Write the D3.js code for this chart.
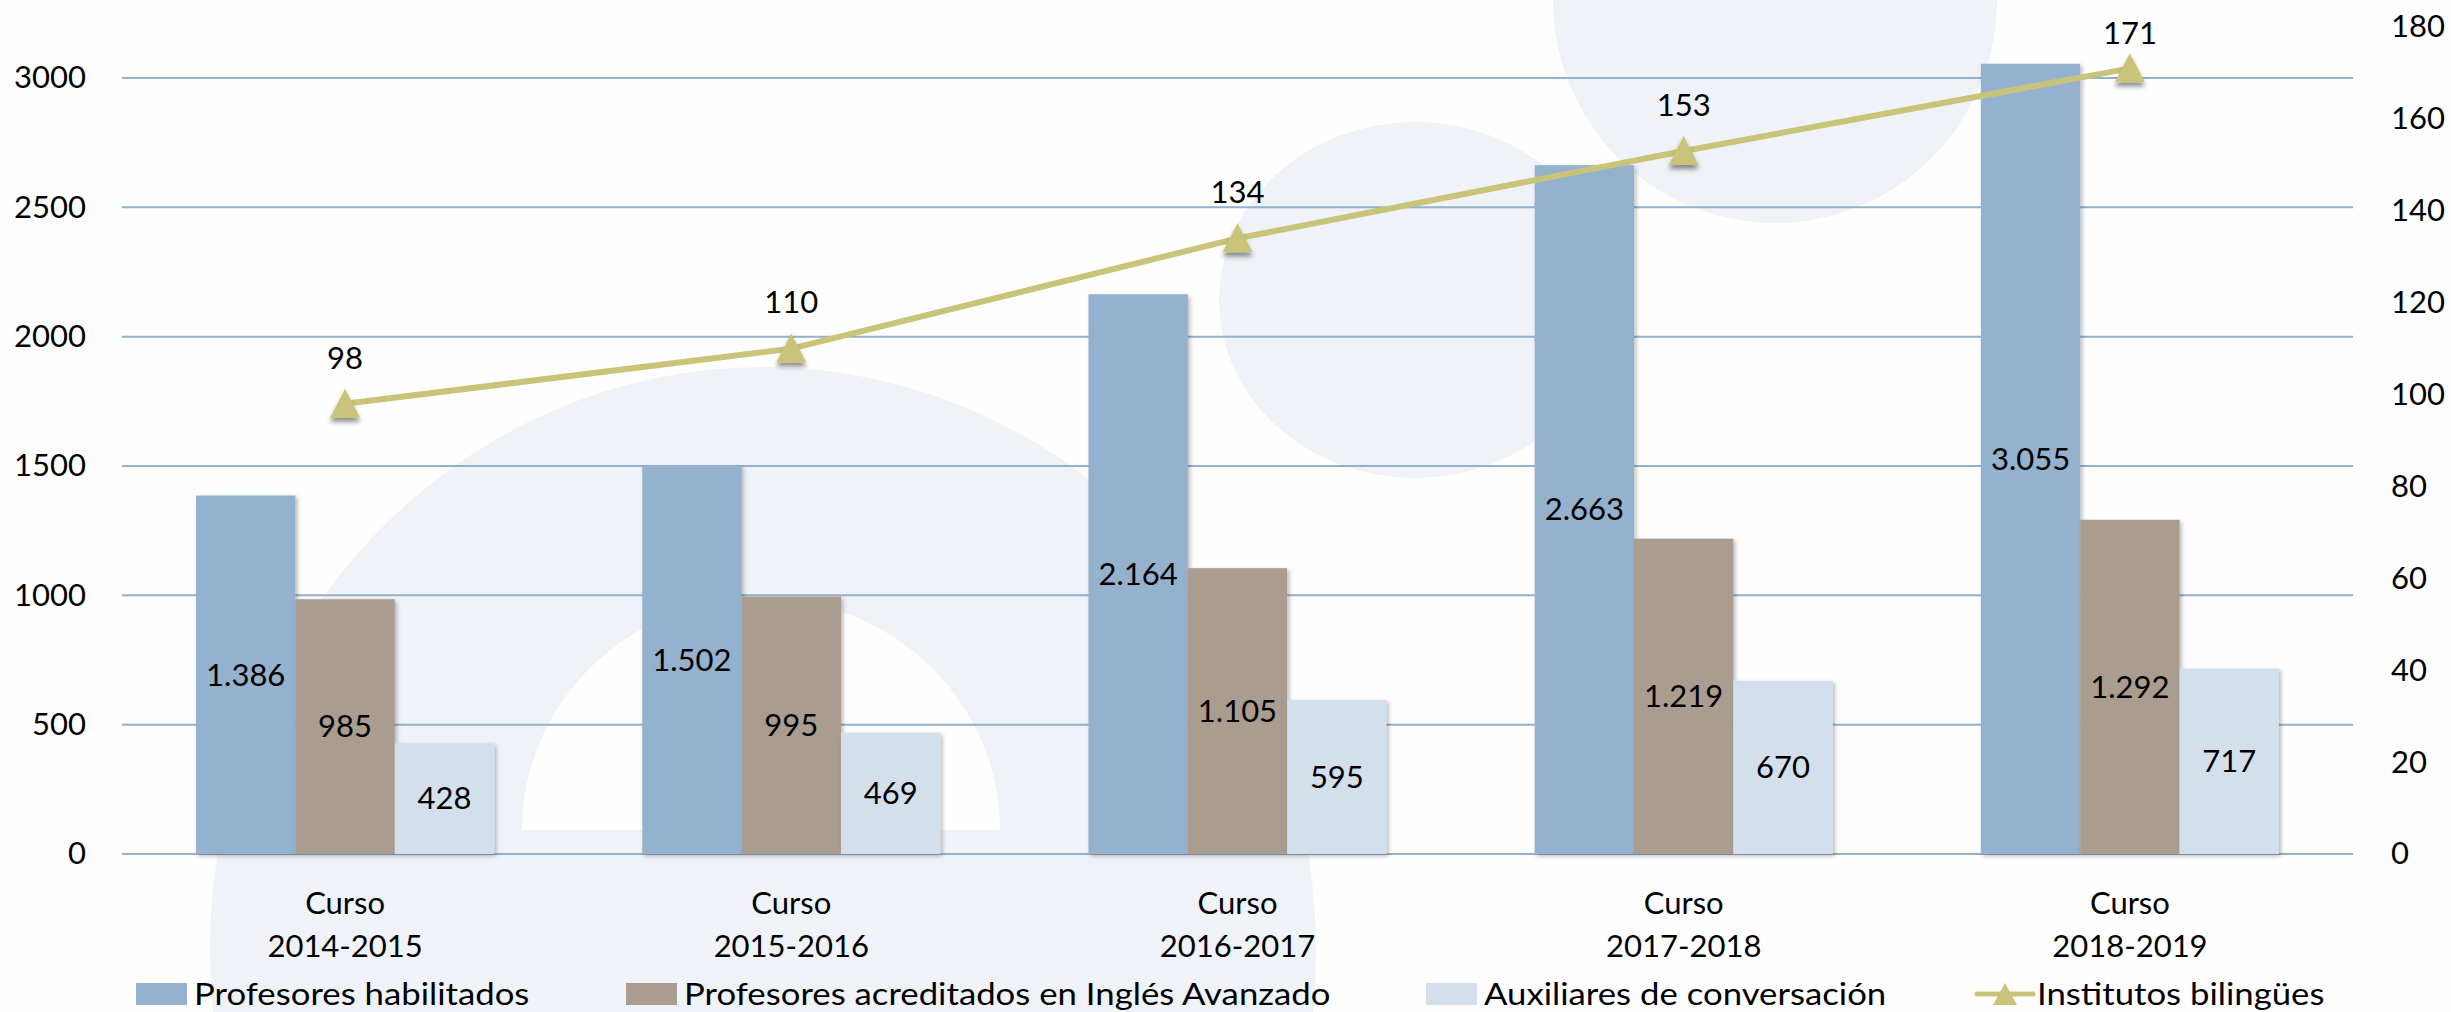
<!DOCTYPE html>
<html lang="es">
<head>
<meta charset="utf-8">
<title>Programa bilingüe: profesorado, auxiliares e institutos</title>
<script src="https://cdn.jsdelivr.net/npm/d3@7"></script>
<style>
  html, body { margin: 0; padding: 0; background: #ffffff; }
  svg { display: block; }
  text { font-family: Lato, "Open Sans", "Liberation Sans", sans-serif; fill: #000; }
</style>
</head>
<body>
<svg id="chart" width="2451" height="1012"></svg>
<script>
// ---- Datos ----
const courses = ["2014-2015", "2015-2016", "2016-2017", "2017-2018", "2018-2019"];
const coursePrefix = "Curso";
const seriesNames = [
  "Profesores habilitados",
  "Profesores acreditados en Inglés Avanzado",
  "Auxiliares de conversación"
];
const profesoresHabilitados = [1386, 1502, 2164, 2663, 3055];
const profesoresAcreditados = [985, 995, 1105, 1219, 1292];
const auxiliaresConversacion = [428, 469, 595, 670, 717];
const lineName = "Institutos bilingües";
const institutosBilingues = [98, 110, 134, 153, 171];
const leftTicks = [0, 500, 1000, 1500, 2000, 2500, 3000];
const rightTicks = [0, 20, 40, 60, 80, 100, 120, 140, 160, 180];

// ---- Estilo y disposición ----
const W = 2451, H = 1012;
const plot = { left: 122, right: 2353, bottom: 854, topLeft: 78, topRight: 27 };
const barColors = ["#94b1ce", "#aa9c8e", "#d3dfea"];
const lineColor = "#c9c47a";
const gridColor = "#95b0cb";
const shapeColor = "#eff3f7";
const fontSize = 31;
const legendStretch = 1.12;

const svg = d3.select("#chart");
const defs = svg.append("defs");

const shadow = defs.append("filter").attr("id", "sombra")
  .attr("x", "-20%").attr("y", "-20%").attr("width", "150%").attr("height", "150%");
shadow.append("feDropShadow").attr("dx", 2).attr("dy", 2)
  .attr("stdDeviation", 2).attr("flood-color", "#000").attr("flood-opacity", 0.28);

const markShadow = defs.append("filter").attr("id", "sombraMarca")
  .attr("x", "-50%").attr("y", "-50%").attr("width", "200%").attr("height", "220%");
markShadow.append("feDropShadow").attr("dx", 0).attr("dy", 4)
  .attr("stdDeviation", 2.5).attr("flood-color", "#000").attr("flood-opacity", 0.45);

svg.append("rect").attr("width", W).attr("height", H).attr("fill", "#fefefe");

// Formas decorativas de fondo
const bg = svg.append("g").attr("class", "fondo");
bg.append("ellipse").attr("cx", 763).attr("cy", 950).attr("rx", 553).attr("ry", 583)
  .attr("fill", shapeColor);
// arco blanco interior (semielipse con base plana)
bg.append("path").attr("d", "M522,830 A239,232 0 0 1 1000,830 Z").attr("fill", "#fefefe");
bg.append("ellipse").attr("cx", 1415).attr("cy", 300).attr("rx", 196).attr("ry", 178)
  .attr("fill", shapeColor);
bg.append("ellipse").attr("cx", 1775).attr("cy", 0).attr("rx", 222).attr("ry", 223)
  .attr("fill", shapeColor);

// ---- Escalas ----
const x0 = d3.scaleBand().domain(courses).range([plot.left, plot.right])
  .paddingInner(0.332).paddingOuter(0.166);
const x1 = d3.scaleBand().domain(seriesNames).range([0, x0.bandwidth()]);
const yL = d3.scaleLinear().domain([0, 3000]).range([plot.bottom, plot.topLeft]);
const yR = d3.scaleLinear().domain([0, 180]).range([plot.bottom, plot.topRight]);
const color = d3.scaleOrdinal().domain(seriesNames).range(barColors);

const es = d3.formatLocale({ decimal: ",", thousands: ".", grouping: [3], currency: ["", " €"] });
const fmtBar = es.format(",d");

// ---- Cuadrícula ----
svg.append("g").attr("class", "cuadricula")
  .selectAll("line").data(leftTicks).join("line")
  .attr("x1", plot.left).attr("x2", plot.right)
  .attr("y1", d => yL(d)).attr("y2", d => yL(d))
  .attr("stroke", gridColor).attr("stroke-width", 2);

// ---- Ejes ----
const axisL = svg.append("g").attr("transform", `translate(${plot.left},0)`)
  .call(d3.axisLeft(yL).tickValues(leftTicks).tickSize(0).tickPadding(36).tickFormat(d3.format("d")));
const axisR = svg.append("g").attr("transform", `translate(${plot.right},0)`)
  .call(d3.axisRight(yR).tickValues(rightTicks).tickSize(0).tickPadding(38).tickFormat(d3.format("d")));
const axisB = svg.append("g").attr("transform", `translate(0,${plot.bottom})`)
  .call(d3.axisBottom(x0).tickSize(0).tickPadding(0));
[axisL, axisR, axisB].forEach(a => {
  a.select(".domain").remove();
  a.selectAll("text").attr("font-size", fontSize).attr("fill", "#000")
    .attr("font-family", 'Lato, "Open Sans", sans-serif');
});
axisB.selectAll(".tick text").each(function (d) {
  const t = d3.select(this).text(null).attr("dy", null).attr("y", 0);
  t.append("tspan").attr("x", 0).attr("y", 60).text(coursePrefix);
  t.append("tspan").attr("x", 0).attr("y", 103).text(d);
});

// ---- Barras ----
const barData = courses.map((c, i) => ({
  course: c,
  values: [profesoresHabilitados[i], profesoresAcreditados[i], auxiliaresConversacion[i]]
    .map((v, k) => ({ series: seriesNames[k], value: v }))
}));

const groups = svg.append("g").attr("class", "barras")
  .selectAll("g").data(barData).join("g")
  .attr("transform", d => `translate(${x0(d.course)},0)`);

groups.selectAll("rect").data(d => d.values).join("rect")
  .attr("x", d => x1(d.series))
  .attr("width", x1.bandwidth())
  .attr("y", d => yL(d.value))
  .attr("height", d => plot.bottom - yL(d.value))
  .attr("fill", d => color(d.series))
  .attr("filter", "url(#sombra)");

groups.selectAll("text").data(d => d.values).join("text")
  .attr("x", d => x1(d.series) + x1.bandwidth() / 2)
  .attr("y", d => (yL(d.value) + plot.bottom) / 2)
  .attr("dy", "0.35em")
  .attr("text-anchor", "middle")
  .attr("font-size", fontSize)
  .text(d => fmtBar(d.value));

// ---- Línea: institutos bilingües ----
const linePts = courses.map((c, i) => ({ course: c, value: institutosBilingues[i] }));
const cx = d => x0(d.course) + x0.bandwidth() / 2;

svg.append("path").datum(linePts)
  .attr("d", d3.line().x(cx).y(d => yR(d.value)))
  .attr("fill", "none").attr("stroke", lineColor).attr("stroke-width", 6)
  .attr("stroke-linecap", "round");

const tri = "M0,-15 L15,14 L-15,14 Z";
svg.append("g").selectAll("path").data(linePts).join("path")
  .attr("d", tri)
  .attr("transform", d => `translate(${cx(d)},${yR(d.value)})`)
  .attr("fill", lineColor).attr("filter", "url(#sombraMarca)");

svg.append("g").selectAll("text").data(linePts).join("text")
  .attr("x", cx)
  .attr("y", d => Math.max(yR(d.value) - 46, 33))
  .attr("dy", "0.35em")
  .attr("text-anchor", "middle")
  .attr("font-size", fontSize)
  .text(d => d.value);

// ---- Leyenda ----
const legendY = 994;
const legendX = [136, 626, 1426, 1977];
const legend = svg.append("g").attr("class", "leyenda");
seriesNames.forEach((name, k) => {
  legend.append("rect").attr("x", legendX[k]).attr("y", legendY - 11)
    .attr("width", 51).attr("height", 22).attr("fill", color(name));
  legend.append("text").attr("x", legendX[k] + 58).attr("y", legendY)
    .attr("dy", "0.36em").attr("font-size", fontSize).text(name);
});
legend.append("line").attr("x1", legendX[3]).attr("x2", legendX[3] + 56)
  .attr("y1", legendY).attr("y2", legendY)
  .attr("stroke", lineColor).attr("stroke-width", 5).attr("stroke-linecap", "round");
legend.append("path").attr("d", "M0,-11 L12,11 L-12,11 Z")
  .attr("transform", `translate(${legendX[3] + 28},${legendY})`).attr("fill", lineColor);
legend.append("text").attr("x", legendX[3] + 60).attr("y", legendY)
  .attr("dy", "0.36em").attr("font-size", fontSize).text(lineName);

// texto de la leyenda algo más ancho, como en la tipografía original
legend.selectAll("text").each(function () {
  const len = this.getComputedTextLength();
  d3.select(this).attr("textLength", len * legendStretch).attr("lengthAdjust", "spacingAndGlyphs");
});
</script>
</body>
</html>
